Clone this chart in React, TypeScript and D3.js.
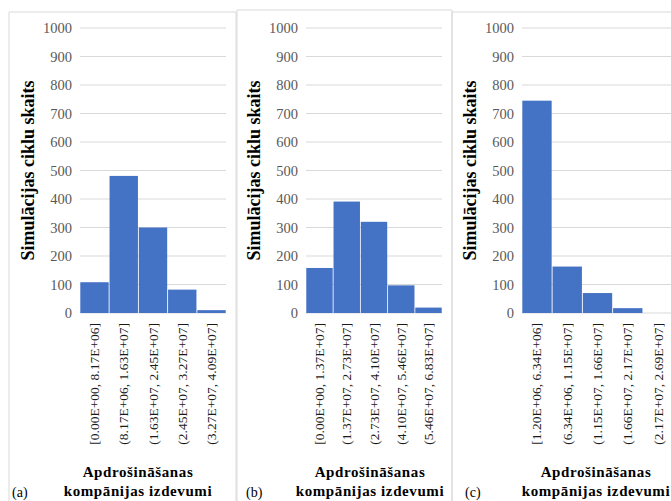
import React from 'react';
import * as d3 from 'd3';

const binsA = ['[0.00E+00, 8.17E+06]', '(8.17E+06, 1.63E+07]', '(1.63E+07, 2.45E+07]', '(2.45E+07, 3.27E+07]', '(3.27E+07, 4.09E+07]'];
const countsA = [108, 481, 300, 82, 10];

const binsB = ['[0.00E+00, 1.37E+07]', '(1.37E+07, 2.73E+07]', '(2.73E+07, 4.10E+07]', '(4.10E+07, 5.46E+07]', '(5.46E+07, 6.83E+07]'];
const countsB = [158, 391, 320, 97, 19];

const binsC = ['[1.20E+06, 6.34E+06]', '(6.34E+06, 1.15E+07]', '(1.15E+07, 1.66E+07]', '(1.66E+07, 2.17E+07]', '(2.17E+07, 2.69E+07]'];
const countsC = [745, 163, 70, 17, 0];

const yTicks = [0, 100, 200, 300, 400, 500, 600, 700, 800, 900, 1000];

const yTitle = 'Simulācijas ciklu skaits';
const xTitle = ['Apdrošināšanas', 'kompānijas izdevumi'];

const serif = '"Liberation Serif", "Times New Roman", serif';
const barColor = '#4472C4';
const gridColor = '#d9d9d9';

interface PanelProps {
  bins: string[];
  counts: number[];
  tag: string;
  left: number;
  right: number;
  frame: { x0: number; x1: number; top: number };
  yTitleX: number;
  titleX: number;
  tagX: number;
}

const Panel: React.FC<PanelProps> = ({ bins, counts, tag, left, right, frame, yTitleX, titleX, tagX }) => {
  const y = d3.scaleLinear().domain([0, 1000]).range([313, 28]);
  const x = d3.scaleBand<string>().domain(bins).range([left, right]).paddingInner(0.03).paddingOuter(0.01);
  const yMid = (y(0) + y(1000)) / 2;

  return (
    <g>
      {/* panel frame */}
      <path
        d={`M${frame.x0},510 V${frame.top} H${frame.x1} V510`}
        fill="none"
        stroke={gridColor}
        strokeWidth={1}
      />
      {yTicks.map(t => (
        <g key={t}>
          <line x1={left} x2={right} y1={y(t)} y2={y(t)} stroke={gridColor} strokeWidth={1} />
          <text x={left - 8} y={y(t)} dy="0.35em" textAnchor="end" fontSize={14.5} fill="#595959" fontFamily={serif}>
            {t}
          </text>
        </g>
      ))}
      {bins.map((b, i) => (
        <rect
          key={b}
          x={x(b)}
          y={y(counts[i])}
          width={x.bandwidth()}
          height={y(0) - y(counts[i])}
          fill={barColor}
        />
      ))}
      {bins.map(b => {
        const cx = (x(b) ?? 0) + x.bandwidth() / 2 + 4.5;
        return (
          <text
            key={b}
            transform={`translate(${cx},323) rotate(-90)`}
            textAnchor="end"
            fontSize={13.5}
            fill="#1a1a1a"
            fontFamily={serif}
          >
            {b}
          </text>
        );
      })}
      <text
        transform={`translate(${yTitleX},${yMid}) rotate(-90)`}
        textAnchor="middle"
        fontSize={18}
        fontWeight="bold"
        fill="#000"
        fontFamily={serif}
      >
        {yTitle}
      </text>
      {xTitle.map((line, i) => (
        <text
          key={line}
          x={titleX}
          y={477 + i * 19}
          textAnchor="middle"
          fontSize={15}
          fontWeight="bold"
          fill="#000"
          letterSpacing={0.6}
          fontFamily={serif}
        >
          {line}
        </text>
      ))}
      <text x={tagX} y={497} fontSize={14} fill="#000" fontFamily={serif}>
        {tag}
      </text>
    </g>
  );
};

export default function App() {
  return (
    <svg width={671} height={501} style={{ position: 'absolute', left: 0, top: 0, background: '#fff' }}>
      <rect width={671} height={501} fill="#fff" />
      <Panel
        bins={binsA}
        counts={countsA}
        tag="(a)"
        left={80}
        right={226}
        frame={{ x0: 9, x1: 236, top: 12 }}
        yTitleX={34}
        titleX={138}
        tagX={12}
      />
      <Panel
        bins={binsB}
        counts={countsB}
        tag="(b)"
        left={306}
        right={442}
        frame={{ x0: 237, x1: 452, top: 10 }}
        yTitleX={260}
        titleX={370}
        tagX={246}
      />
      <Panel
        bins={binsC}
        counts={countsC}
        tag="(c)"
        left={522}
        right={673}
        frame={{ x0: 452, x1: 680, top: 12 }}
        yTitleX={476}
        titleX={596}
        tagX={465}
      />
    </svg>
  );
}
